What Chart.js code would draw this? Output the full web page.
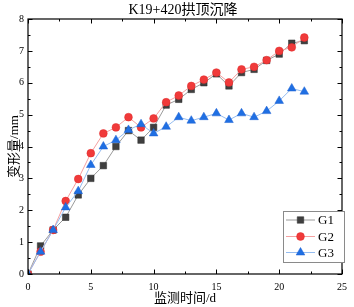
<!DOCTYPE html>
<html>
<head>
<meta charset="utf-8">
<script src="https://cdn.jsdelivr.net/npm/chart.js@4/dist/chart.umd.min.js"></script>
<style>
html,body{margin:0;padding:0;background:#fff;}
#wrap{width:354px;height:307px;position:relative;}
</style>
</head>
<body>
<div id="wrap"><canvas id="c" width="354" height="307"></canvas></div>
<script>
const days = [0,1,2,3,4,5,6,7,8,9,10,11,12,13,14,15,16,17,18,19,20,21,22];
const g1 = [0,0.88,1.38,1.78,2.48,3.0,3.4,4.0,4.5,4.2,4.6,5.3,5.48,5.79,6.0,6.28,5.9,6.32,6.42,6.7,6.9,7.24,7.32];
const g2 = [0,0.7,1.38,2.29,2.98,3.79,4.41,4.6,4.92,4.6,4.88,5.39,5.6,5.9,6.1,6.32,6.01,6.42,6.5,6.71,7.0,7.11,7.42];
const g3 = [0,0.7,1.38,2.09,2.6,3.42,4.0,4.2,4.52,4.7,4.41,4.62,4.92,4.81,4.92,5.04,4.83,5.04,4.92,5.11,5.43,5.82,5.72];
const seriesNames = ['G1','G2','G3'];
const xTicks = [0,5,10,15,20,25];
const yTicks = [0,1,2,3,4,5,6,7,8];
const chartTitle = 'K19+420拱顶沉降';
const xTitle = '监测时间/d';
const yTitle = '变形量/mm';

const FONT = "'Liberation Serif','Times New Roman','Noto Sans CJK SC',serif";

const styles = [
  {line:'#9a9a9a', fill:'#3f3f3f', border:'#2c2c2c', pt:'rect', r:4.6},
  {line:'#f5a0a0', fill:'#f03a3a', border:'#e02a2a', pt:'circle', r:3.9},
  {line:'#94bcf0', fill:'#1f6fe3', border:'#1a5fd0', pt:'triangle', r:5}
];
const allData = [g1,g2,g3];

const datasets = allData.map((arr,i)=>({
  label: seriesNames[i],
  data: days.map((d,j)=>({x:d,y:arr[j]})),
  borderColor: styles[i].line,
  borderWidth: 1,
  backgroundColor: styles[i].fill,
  pointBackgroundColor: styles[i].fill,
  pointBorderColor: styles[i].border,
  pointBorderWidth: 0.5,
  pointStyle: styles[i].pt,
  pointRadius: styles[i].r,
  pointHoverRadius: styles[i].r,
  tension: 0,
  order: 3 - i
}));

const framePlugin = {
  id:'frame',
  afterDraw(chart){
    const ctx = chart.ctx;
    const a = chart.chartArea;
    const xs = chart.scales.x, ys = chart.scales.y;
    ctx.save();
    // title
    ctx.fillStyle = '#000';
    ctx.font = "14px " + FONT;
    ctx.textAlign = 'center';
    ctx.textBaseline = 'middle';
    ctx.fillText(chartTitle, (a.left + a.right) / 2 - 2, 10);

    ctx.strokeStyle = '#000';
    ctx.lineWidth = 1.2;
    ctx.strokeRect(a.left, a.top, a.right - a.left, a.bottom - a.top);
    ctx.lineWidth = 1;
    ctx.beginPath();
    for (let v = 0; v <= 25; v += 2.5) {
      const px = Math.round(xs.getPixelForValue(v)) + 0.5;
      const major = (v % 5 === 0);
      const len = major ? 4.5 : 2.5;
      ctx.moveTo(px, a.bottom); ctx.lineTo(px, a.bottom - len);
      ctx.moveTo(px, a.top); ctx.lineTo(px, a.top + len);
    }
    for (let v = 0; v <= 8; v += 0.5) {
      const py = Math.round(ys.getPixelForValue(v)) + 0.5;
      const major = (v % 1 === 0);
      const len = major ? 4.5 : 2.5;
      ctx.moveTo(a.left, py); ctx.lineTo(a.left + len, py);
      ctx.moveTo(a.right, py); ctx.lineTo(a.right - len, py);
    }
    ctx.stroke();

    // legend
    const bx = 283, by = 211, bw = 61, bh = 51;
    ctx.fillStyle = '#fff';
    ctx.fillRect(bx, by, bw, bh);
    ctx.strokeStyle = '#8a8a8a';
    ctx.lineWidth = 1;
    ctx.strokeRect(bx + 0.5, by + 0.5, bw, bh);
    const rowY = [220, 236.5, 252.5];
    ctx.font = "13px " + FONT;
    ctx.textBaseline = 'middle';
    ctx.textAlign = 'left';
    for (let i = 0; i < 3; i++) {
      const y = rowY[i];
      ctx.strokeStyle = styles[i].line;
      ctx.lineWidth = 1;
      ctx.beginPath();
      ctx.moveTo(286, y); ctx.lineTo(315, y);
      ctx.stroke();
      ctx.save();
      ctx.fillStyle = styles[i].fill;
      ctx.strokeStyle = styles[i].border;
      ctx.lineWidth = 0.5;
      Chart.helpers.drawPoint(ctx, {pointStyle: styles[i].pt, radius: styles[i].r, borderWidth: 0.5, rotation: 0}, 300.5, y);
      ctx.restore();
      ctx.fillStyle = '#000';
      ctx.fillText(seriesNames[i], 318, y + 1);
    }
    ctx.restore();
  }
};

new Chart(document.getElementById('c'), {
  type: 'line',
  data: { datasets },
  options: {
    responsive: false,
    animation: false,
    devicePixelRatio: 1,
    layout: { padding: { left: 0, right: 9, top: 19, bottom: 0 } },
    plugins: {
      legend: { display: false },
      tooltip: { enabled: false },
      title: { display: false }
    },
    scales: {
      x: {
        type: 'linear',
        min: 0, max: 25,
        afterBuildTicks(scale){ scale.ticks = xTicks.map(v=>({value:v})); },
        afterFit(scale){ scale.height = 33; },
        grid: { display: false, drawTicks: false },
        border: { display: false },
        ticks: { color: '#000', padding: 7, maxRotation: 0, font: { family: FONT, size: 10 } },
        title: { display: true, text: xTitle, color: '#000', padding: { top: 0, bottom: 0.5 },
                 font: { family: FONT, size: 13, lineHeight: 1.2 } }
      },
      y: {
        type: 'linear',
        min: 0, max: 8,
        afterBuildTicks(scale){ scale.ticks = yTicks.map(v=>({value:v})); },
        afterFit(scale){ scale.width = 28; },
        grid: { display: false, drawTicks: false },
        border: { display: false },
        ticks: { color: '#000', padding: 4, font: { family: FONT, size: 10 } },
        title: { display: true, text: yTitle, color: '#000', padding: { top: 7, bottom: 0 },
                 font: { family: FONT, size: 13, lineHeight: 1.2 } }
      }
    }
  },
  plugins: [framePlugin]
});
</script>
</body>
</html>
